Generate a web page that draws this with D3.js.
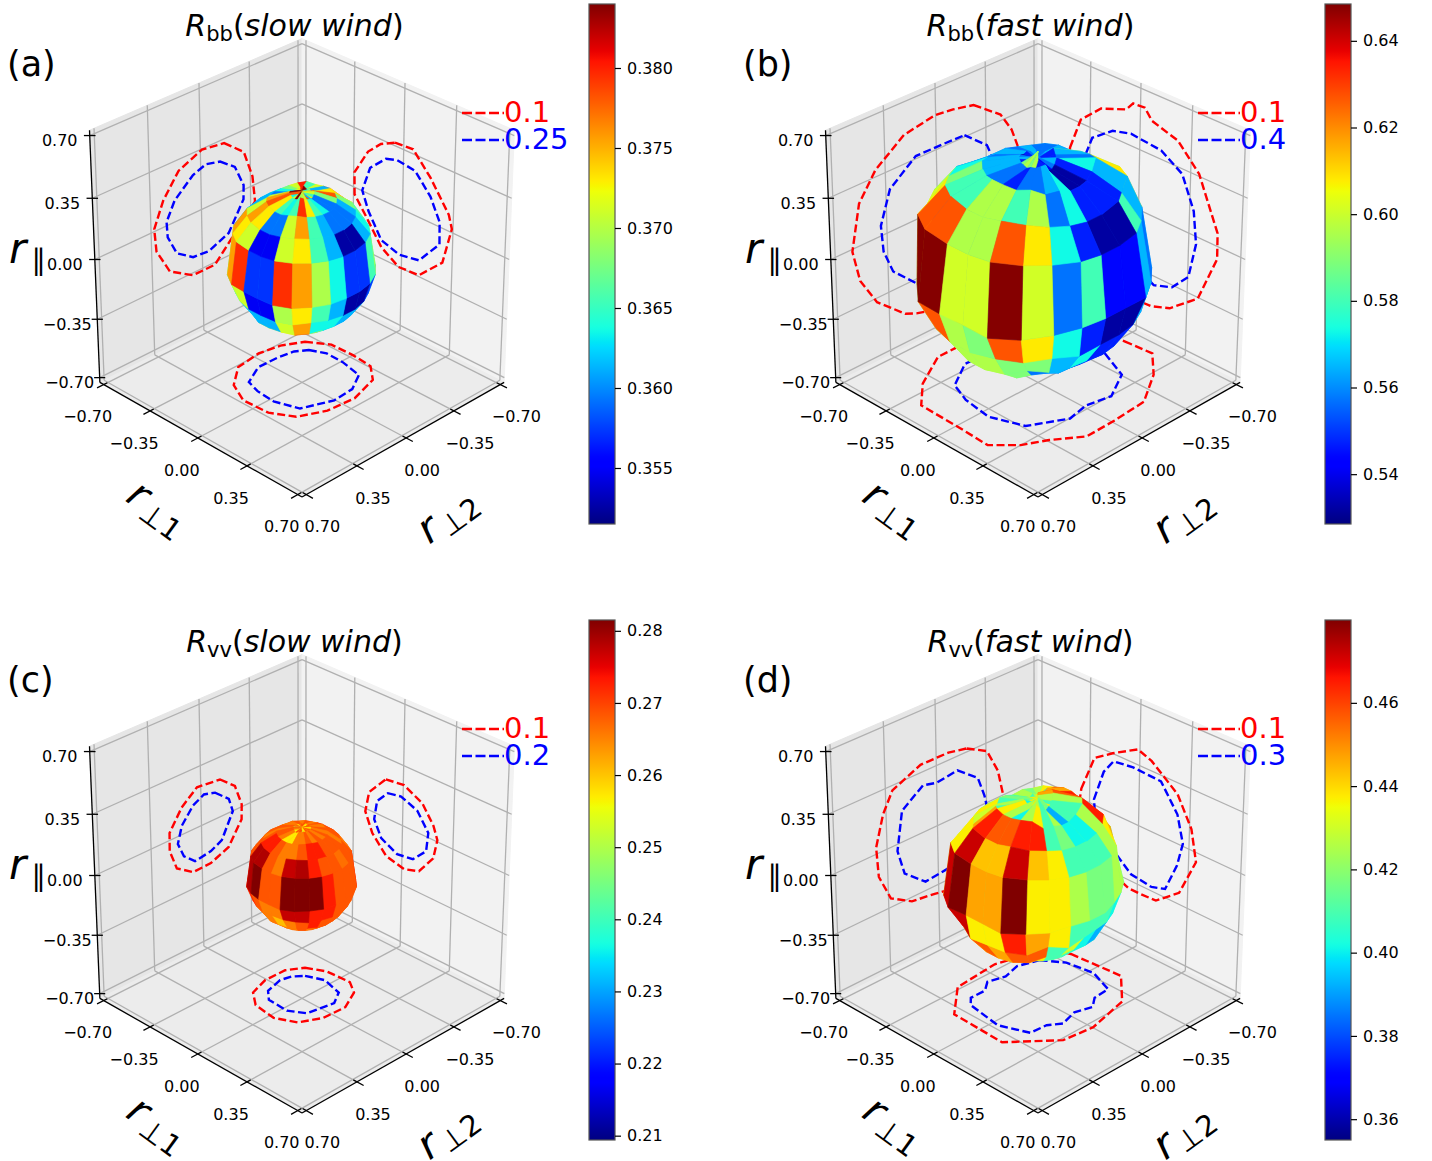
<!DOCTYPE html>
<html>
<head>
<meta charset="utf-8">
<script src="https://cdn.jsdelivr.net/npm/d3@7"></script>
<style>
	html, body { margin: 0; padding: 0; background: #fff; }
	text { font-family: "DejaVu Sans", sans-serif; }
</style>
</head>
<body>
<svg id="chart" width="1432" height="1161"></svg>
<script>
var axisTicks = [-0.7, -0.35, 0, 0.35, 0.7];
var latEdges = [90, 81, 63, 45, 27, -9, -27, -45, -63, -81, -90];
// longitude of the first column edge, measured from the direction of the viewer
var lonEdges = d3.range(-187.5, 172.5, 15);

// R(r), rows north to south, 24 columns each
var bbSlow = [
	[.3801,.373,.371,.3613,.3635,.384,.384,.3782,.3635,.371,.384,.3697,.3697,.371,.3782,.3613,.373,.3655,.371,.3782,.373,.3678,.3635,.384],
	[.3801,.371,.3678,.3635,.3593,.371,.3756,.3782,.373,.3655,.3635,.3655,.3795,.373,.3655,.3635,.3593,.3593,.3678,.3782,.373,.3613,.371,.3655],
	[.3801,.373,.3655,.3613,.3613,.3613,.371,.3756,.373,.3593,.3593,.371,.3756,.3655,.3613,.3593,.3593,.3593,.3613,.3678,.373,.3782,.373,.371],
	[.3613,.3635,.3613,.3635,.3613,.3613,.3756,.373,.371,.3548,.3548,.371,.373,.3655,.3613,.3525,.3525,.3613,.3635,.3655,.3697,.3613,.3635,.3613],
	[.3613,.3635,.3613,.3613,.3635,.3613,.371,.3756,.3795,.3572,.3572,.3795,.3756,.3697,.3635,.3572,.3572,.3655,.3697,.3635,.3613,.3635,.3613,.3635],
	[.3613,.3635,.3613,.3613,.3635,.3613,.3635,.3678,.371,.3548,.3548,.3697,.373,.3655,.3613,.3525,.3525,.3572,.3613,.3635,.3613,.3635,.3613,.3635],
	[.3613,.3635,.3613,.3613,.3635,.3613,.3635,.3635,.3613,.3613,.3613,.371,.3756,.3635,.3635,.3613,.3613,.3613,.3635,.3635,.3613,.3613,.3635,.3613],
	[.3613,.3635,.3613,.3613,.3635,.3613,.3635,.3635,.3635,.371,.371,.373,.3795,.373,.3635,.3613,.3613,.3635,.3635,.3613,.3613,.3613,.3635,.3613],
	[.3635,.3635,.3635,.3635,.3635,.3635,.3635,.3635,.3635,.3635,.3635,.3635,.3635,.3635,.3635,.3635,.3635,.3635,.3635,.3635,.3635,.3635,.3635,.3635],
	[.3635,.3635,.3635,.3635,.3635,.3635,.3635,.3635,.3635,.3635,.3635,.3635,.3635,.3635,.3635,.3635,.3635,.3635,.3635,.3635,.3635,.3635,.3635,.3635]
];
var bbFast = [
	[.557,.565,.557,.547,.532,.557,.565,.547,.589,.596,.589,.596,.547,.547,.547,.541,.557,.565,.557,.547,.547,.557,.565,.557],
	[.557,.565,.557,.565,.557,.565,.565,.565,.557,.557,.547,.557,.557,.565,.573,.532,.532,.547,.573,.557,.565,.589,.565,.557],
	[.565,.557,.557,.565,.557,.573,.589,.58,.58,.596,.596,.58,.596,.557,.573,.547,.547,.547,.565,.608,.589,.573,.557,.565],
	[.557,.565,.557,.565,.573,.601,.608,.627,.627,.596,.596,.627,.608,.573,.547,.532,.532,.58,.565,.608,.601,.573,.557,.565],
	[.557,.557,.565,.557,.557,.608,.601,.648,.648,.601,.601,.648,.601,.557,.58,.544,.544,.565,.557,.565,.557,.557,.565,.557],
	[.557,.565,.557,.557,.565,.589,.596,.596,.627,.596,.589,.627,.608,.573,.547,.532,.532,.565,.557,.565,.557,.557,.565,.557],
	[.565,.557,.565,.557,.565,.557,.589,.589,.596,.596,.596,.589,.589,.565,.573,.547,.547,.557,.565,.557,.565,.557,.565,.557],
	[.565,.557,.565,.557,.565,.557,.565,.565,.58,.596,.596,.589,.557,.565,.557,.547,.557,.565,.557,.565,.557,.565,.557,.565],
	[.565,.557,.565,.557,.565,.557,.565,.557,.565,.565,.58,.589,.565,.557,.565,.557,.565,.557,.565,.557,.565,.557,.565,.557],
	[.58,.58,.58,.58,.58,.58,.58,.58,.58,.58,.58,.58,.58,.58,.58,.58,.58,.58,.58,.58,.58,.58,.58,.58]
];
var vvSlow = [
	[.2685,.2655,.257,.2685,.2655,.2498,.2685,.2655,.257,.2685,.2655,.2685,.2498,.257,.2685,.2655,.2685,.2655,.257,.2655,.2685,.2655,.257,.2685],
	[.2655,.2685,.2655,.2655,.2685,.2655,.2685,.2685,.2655,.257,.257,.2655,.2655,.2685,.2655,.2685,.2655,.2685,.2655,.2685,.2655,.2685,.2655,.2685],
	[.2685,.2655,.2685,.2655,.2685,.2655,.2685,.2729,.2729,.2685,.2655,.2655,.2685,.2729,.2729,.2685,.2685,.2685,.2655,.2685,.2685,.2729,.2685,.2655],
	[.2685,.2655,.2685,.2655,.2685,.2685,.2685,.2785,.2785,.2685,.2655,.2772,.2785,.2729,.2685,.2685,.2665,.2685,.2685,.2655,.2685,.2685,.2655,.2685],
	[.2685,.2655,.2685,.2685,.2655,.2685,.2729,.2785,.2815,.2685,.2685,.2815,.2815,.2815,.2729,.2685,.2685,.2685,.2729,.2685,.2655,.2685,.2655,.2685],
	[.2685,.2655,.2685,.2685,.2655,.2685,.2685,.2729,.2685,.2655,.2655,.2772,.2772,.2729,.2729,.2685,.2685,.2685,.2685,.2655,.2685,.2685,.2655,.2685],
	[.2685,.2655,.2685,.2685,.2655,.2685,.2685,.2685,.2655,.2655,.2605,.2655,.2685,.2729,.2685,.2685,.2685,.2655,.2685,.2685,.2655,.2685,.2685,.2655],
	[.2685,.2685,.2655,.2685,.2685,.2655,.2685,.2685,.2655,.2685,.2655,.2655,.2685,.2655,.2685,.2685,.2655,.2685,.2685,.2655,.2685,.2685,.2655,.2685],
	[.2685,.2685,.2685,.2685,.2685,.2685,.2685,.2685,.2685,.2685,.2685,.2685,.2685,.2685,.2685,.2685,.2685,.2685,.2685,.2685,.2685,.2685,.2685,.2685],
	[.2685,.2685,.2685,.2685,.2685,.2685,.2685,.2685,.2685,.2685,.2685,.2685,.2685,.2685,.2685,.2685,.2685,.2685,.2685,.2685,.2685,.2685,.2685,.2685]
];
var vvFast = [
	[.437,.425,.409,.437,.417,.425,.409,.437,.401,.425,.437,.425,.425,.409,.43,.417,.437,.409,.425,.447,.457,.447,.409,.425],
	[.425,.417,.425,.409,.417,.409,.425,.409,.437,.425,.401,.425,.437,.409,.425,.392,.409,.409,.425,.457,.465,.447,.457,.437],
	[.437,.425,.425,.409,.425,.437,.43,.447,.465,.457,.457,.465,.465,.409,.417,.401,.401,.425,.465,.465,.447,.447,.447,.437],
	[.425,.409,.425,.409,.425,.43,.437,.437,.472,.443,.443,.472,.443,.437,.409,.409,.409,.425,.437,.447,.425,.409,.425,.409],
	[.425,.409,.425,.425,.409,.425,.437,.472,.48,.447,.447,.48,.437,.437,.425,.417,.417,.425,.425,.409,.425,.409,.425,.409],
	[.425,.409,.425,.425,.409,.425,.447,.465,.472,.437,.437,.465,.447,.437,.409,.409,.409,.401,.409,.425,.409,.425,.409,.425],
	[.425,.409,.425,.409,.425,.409,.437,.447,.437,.457,.447,.457,.457,.409,.43,.401,.392,.401,.409,.425,.409,.425,.409,.425],
	[.409,.417,.409,.417,.409,.417,.409,.417,.425,.447,.447,.447,.437,.409,.409,.401,.409,.417,.409,.417,.409,.417,.409,.417],
	[.417,.417,.417,.417,.417,.417,.417,.417,.417,.417,.417,.417,.417,.417,.417,.417,.417,.417,.417,.417,.417,.417,.417,.417],
	[.417,.417,.417,.417,.417,.417,.417,.417,.417,.417,.417,.417,.417,.417,.417,.417,.417,.417,.417,.417,.417,.417,.417,.417]
];

// contours on the walls and on the floor
// left wall is [x, z], right wall is [y, z], floor is [x, y]
var bbSlowLeft01 = [[-.139,.347],[-.277,.244],[-.337,.078],[-.354,-.078],[-.189,-.227],[-.06,-.342],[.095,-.341],[.255,-.253],[.343,-.099],[.354,.036],[.288,.176],[.179,.306],[.016,.367]];
var bbSlowLeft25 = [[-.109,.251],[-.212,.181],[-.273,.05],[-.271,-.033],[-.162,-.192],[-.02,-.243],[.092,-.234],[.204,-.166],[.264,-.047],[.269,.044],[.211,.146],[.082,.244],[-.01,.273]];
var bbSlowRight01 = [[-.034,.388],[.092,.397],[.215,.279],[.345,.116],[.368,.042],[.31,-.178],[.151,-.318],[.007,-.328],[-.118,-.259],[-.234,-.114],[-.314,-.02],[-.316,.11],[-.221,.267],[-.132,.344]];
var bbSlowRight25 = [[-.095,.272],[-.018,.294],[.109,.279],[.217,.172],[.284,.05],[.287,-.08],[.149,-.23],[.009,-.253],[-.119,-.217],[-.213,-.081],[-.259,.025],[-.205,.178]];
var bbSlowFloor01 = [[-.259,-.237],[-.336,-.12],[-.34,.035],[-.327,.17],[-.24,.27],[-.05,.326],[.13,.31],[.28,.24],[.352,.114],[.361,-.057],[.295,-.195],[.159,-.303],[-.008,-.325],[-.142,-.3]];
var bbSlowFloor25 = [[-.215,-.165],[-.257,-.077],[-.254,.042],[-.223,.188],[-.103,.257],[.037,.267],[.213,.199],[.26,.058],[.25,-.068],[.221,-.161],[.087,-.23],[-.053,-.226],[-.151,-.209]];

var bbFastLeft01 = [[-.237,.53],[-.427,.407],[-.506,.291],[-.551,.176],[-.658,-.067],[-.683,-.4],[-.42,-.616],[-.033,-.588],[.189,-.533],[.267,-.502],[.458,-.351],[.566,-.181],[.611,.008],[.556,.263],[.441,.41],[.245,.535],[.035,.569],[-.094,.557]];
var bbFastLeft04 = [[-.17,.381],[-.328,.265],[-.374,.162],[-.496,-.045],[-.46,-.31],[-.232,-.433],[.025,-.438],[.185,-.352],[.342,-.217],[.403,-.075],[.416,.08],[.348,.266],[.168,.387],[-.025,.385]];
var bbFastRight01 = [[-.465,.2],[-.389,.391],[-.246,.507],[-.071,.565],[-.024,.616],[.057,.621],[.106,.565],[.284,.518],[.432,.385],[.567,.097],[.57,-.051],[.449,-.334],[.259,-.472],[.131,-.514],[.067,-.518],[-.241,-.458],[-.406,-.225],[-.476,.005]];
var bbFastRight04 = [[-.352,.203],[-.306,.316],[-.163,.409],[-.035,.439],[.174,.421],[.32,.341],[.404,.16],[.426,-.023],[.381,-.233],[.271,-.341],[.144,-.381],[-.084,-.268],[-.28,-.132]];
var bbFastFloor01 = [[-.57,.067],[-.584,.251],[-.438,.397],[-.215,.538],[.014,.553],[.215,.556],[.37,.448],[.501,.381],[.616,.266],[.606,.058],[.6,-.229],[.454,-.374],[.222,-.507],[.076,-.506],[-.214,-.531],[-.51,-.333]];
var bbFastFloor04 = [[-.411,.078],[-.323,.282],[-.137,.386],[.015,.356],[.158,.384],[.363,.276],[.434,.084],[.406,-.108],[.351,-.247],[.172,-.359],[.095,-.355],[-.174,-.426],[-.405,-.196]];

var vvSlowLeft01 = [[-.108,.24],[-.212,.163],[-.259,.037],[-.257,-.051],[-.162,-.18],[-.034,-.225],[.092,-.228],[.204,-.16],[.25,-.041],[.248,.065],[.161,.18],[.053,.256]];
var vvSlowLeft02 = [[-.072,.177],[-.168,.103],[-.195,.021],[-.114,-.12],[-.036,-.154],[.077,-.169],[.153,-.109],[.193,-.021],[.163,.074],[.083,.161],[.006,.196]];
var vvSlowRight01 = [[-.095,.246],[.032,.26],[.16,.204],[.24,.104],[.269,.032],[.244,-.085],[.148,-.2],[.043,-.23],[-.084,-.203],[-.185,-.106],[-.237,.004],[-.211,.128]];
var vvSlowRight02 = [[-.079,.171],[.013,.187],[.127,.148],[.206,.049],[.194,-.063],[.104,-.146],[-.007,-.161],[-.121,-.111],[-.173,-.018],[-.154,.097]];
var vvSlowFloor01 = [[-.189,-.167],[-.243,-.063],[-.252,.095],[-.195,.18],[-.064,.246],[.087,.238],[.207,.178],[.263,.061],[.243,-.089],[.169,-.184],[.041,-.226],[-.099,-.222]];
var vvSlowFloor02 = [[-.133,-.111],[-.175,-.009],[-.14,.125],[-.052,.179],[.114,.15],[.168,.06],[.16,-.078],[.103,-.142],[-.013,-.172],[-.079,-.155]];

var vvFastLeft01 = [[-.186,.391],[-.329,.323],[-.406,.18],[-.442,.027],[-.494,-.207],[-.361,-.41],[-.04,-.39],[.056,-.373],[.216,-.352],[.36,-.274],[.437,-.116],[.449,.06],[.396,.231],[.329,.343],[.135,.416],[-.058,.414]];
var vvFastLeft03 = [[-.119,.289],[-.262,.191],[-.308,.07],[-.366,-.178],[-.236,-.275],[-.059,-.259],[.118,-.274],[.261,-.168],[.306,-.018],[.268,.202],[.121,.293],[.026,.272]];
var vvFastRight01 = [[-.382,.083],[-.29,.297],[-.162,.372],[.013,.459],[.109,.427],[.289,.306],[.389,.143],[.426,-.034],[.318,-.259],[.159,-.371],[.047,-.377],[-.034,-.377],[-.276,-.291],[-.409,-.088]];
var vvFastRight03 = [[-.29,.055],[-.223,.242],[-.155,.328],[-.018,.344],[.175,.336],[.292,.19],[.334,.036],[.298,-.106],[.221,-.276],[.126,-.303],[-.019,-.286],[-.183,-.169],[-.282,-.037]];
var vvFastFloor01 = [[-.396,-.154],[-.424,.18],[-.249,.355],[.028,.419],[.219,.396],[.447,.195],[.437,-.16],[.246,-.335],[-.044,-.361],[-.146,-.332],[-.342,-.33]];
var vvFastFloor03 = [[-.237,-.225],[-.318,-.11],[-.344,.062],[-.284,.222],[-.175,.232],[-.106,.285],[-.004,.255],[.11,.288],[.18,.241],[.287,.233],[.353,.068],[.318,-.164],[.27,-.213],[.171,-.212],[.103,-.264],[0,-.235],[-.113,-.266]];

var panels = [
	{tag: "(a)", sub: "bb", wind: "slow wind", grid: bbSlow, domain: [.3515, .384], cbTicks: [.355, .36, .365, .37, .375, .38], cbFormat: ".3f", level: "0.25",
		left: [bbSlowLeft01, bbSlowLeft25], right: [bbSlowRight01, bbSlowRight25], floor: [bbSlowFloor01, bbSlowFloor25], dx: 0, dy: 0},
	{tag: "(b)", sub: "bb", wind: "fast wind", grid: bbFast, domain: [.5285, .6485], cbTicks: [.54, .56, .58, .6, .62, .64], cbFormat: ".2f", level: "0.4",
		left: [bbFastLeft01, bbFastLeft04], right: [bbFastRight01, bbFastRight04], floor: [bbFastFloor01, bbFastFloor04], dx: 736, dy: 0},
	{tag: "(c)", sub: "vv", wind: "slow wind", grid: vvSlow, domain: [.2094, .2815], cbTicks: [.21, .22, .23, .24, .25, .26, .27, .28], cbFormat: ".2f", level: "0.2",
		left: [vvSlowLeft01, vvSlowLeft02], right: [vvSlowRight01, vvSlowRight02], floor: [vvSlowFloor01, vvSlowFloor02], dx: 0, dy: 616},
	{tag: "(d)", sub: "vv", wind: "fast wind", grid: vvFast, domain: [.355, .4799], cbTicks: [.36, .38, .4, .42, .44, .46], cbFormat: ".2f", level: "0.3",
		left: [vvFastLeft01, vvFastLeft03], right: [vvFastRight01, vvFastRight03], floor: [vvFastFloor01, vvFastFloor03], dx: 736, dy: 616}
];

// mplot3d camera, elev 30 azim 45 dist 10
var paneMax = 0.7 + 1.4 / 48,
	elev = 30 * Math.PI / 180,
	azim = 45 * Math.PI / 180,
	dist = 10,
	sphereGain = 1.03;
var boxScale = d3.scaleLinear().domain([-paneMax, paneMax]).range([-0.5, 0.5]);
var screenX = d3.scaleLinear().domain([0, 1]).range([302, 302 + 293]);
var screenY = d3.scaleLinear().domain([0, 1]).range([259.5, 259.5 - 291]);

function depthOf(x, y, z) {
	return Math.cos(elev) * (Math.cos(azim) * boxScale(x) + Math.sin(azim) * boxScale(y)) + Math.sin(elev) * boxScale(z);
}

function project(x, y, z) {
	var bx = boxScale(x), by = boxScale(y), bz = boxScale(z);
	var right = -Math.sin(azim) * bx + Math.cos(azim) * by;
	var up = -Math.sin(elev) * (Math.cos(azim) * bx + Math.sin(azim) * by) + Math.cos(elev) * bz;
	var f = dist / (dist - depthOf(x, y, z));
	return [screenX(right * f), screenY(up * f)];
}

// matplotlib jet
var jetR = d3.scaleLinear().domain([0, .35, .66, .89, 1]).range([0, 0, 255, 255, 128]);
var jetG = d3.scaleLinear().domain([0, .125, .375, .64, .91, 1]).range([0, 0, 255, 255, 0, 0]);
var jetB = d3.scaleLinear().domain([0, .11, .34, .65, 1]).range([128, 255, 255, 0, 0]);
function jet(t) {
	t = Math.max(0, Math.min(1, t));
	return d3.rgb(jetR(t), jetG(t), jetB(t)).formatHex();
}

var svg = d3.select("#chart");
var closedLine = d3.line().curve(d3.curveLinearClosed);

function segment(g, a, b, color, width) {
	var p = project(a[0], a[1], a[2]), q = project(b[0], b[1], b[2]);
	g.append("line")
		.attr("x1", p[0]).attr("y1", p[1])
		.attr("x2", q[0]).attr("y2", q[1])
		.attr("stroke", color)
		.attr("stroke-width", width);
}

function drawBox(g) {
	var m = paneMax;
	var panes = [
		{fill: "#e6e6e6", pts: [[m, -m, -m], [-m, -m, -m], [-m, -m, m], [m, -m, m]]},
		{fill: "#f2f2f2", pts: [[-m, m, -m], [-m, -m, -m], [-m, -m, m], [-m, m, m]]},
		{fill: "#ececec", pts: [[m, m, -m], [m, -m, -m], [-m, -m, -m], [-m, m, -m]]}
	];
	g.selectAll("path.pane").data(panes).enter().append("path")
		.attr("class", "pane")
		.attr("d", function(d) { return closedLine(d.pts.map(function(p) { return project(p[0], p[1], p[2]); })); })
		.attr("fill", function(d) { return d.fill; })
		.attr("stroke", function(d) { return d.fill; })
		.attr("stroke-width", 1);

	axisTicks.forEach(function(v) {
		segment(g, [v, -m, -m], [v, m, -m], "#b0b0b0", 1.3);
		segment(g, [v, -m, -m], [v, -m, m], "#b0b0b0", 1.3);
		segment(g, [-m, v, -m], [m, v, -m], "#b0b0b0", 1.3);
		segment(g, [-m, v, -m], [-m, v, m], "#b0b0b0", 1.3);
		segment(g, [-m, -m, v], [m, -m, v], "#b0b0b0", 1.3);
		segment(g, [-m, -m, v], [-m, m, v], "#b0b0b0", 1.3);
	});

	segment(g, [-m, m, -m], [m, m, -m], "#000", 1.3);
	segment(g, [m, -m, -m], [m, m, -m], "#000", 1.3);
	segment(g, [m, -m, -m], [m, -m, m], "#000", 1.3);

	var fmt = d3.format(".2f");
	axisTicks.forEach(function(v) {
		segment(g, [v, m - 0.025, -m], [v, m + 0.045, -m], "#000", 1.3);
		segment(g, [m - 0.025, v, -m], [m + 0.045, v, -m], "#000", 1.3);
		segment(g, [m + 0.02, -m - 0.02, v], [m - 0.02, -m + 0.02, v], "#000", 1.3);

		var px = project(v, m, -m), py = project(m, v, -m), pz = project(m, -m, v);
		tickLabel(g, px[0] + 16, px[1] + 32, fmt(v));
		tickLabel(g, py[0] - 16, py[1] + 32, fmt(v));
		tickLabel(g, pz[0] - 30, pz[1] + 5, fmt(v));
	});
}

function tickLabel(g, x, y, s) {
	g.append("text")
		.attr("x", x).attr("y", y).attr("dy", "0.36em")
		.attr("text-anchor", "middle")
		.attr("font-size", 16)
		.attr("fill", "#000")
		.text(s);
}

function drawContours(g, curves, toPoint) {
	var colors = ["#ff0000", "#0000ff"];
	curves.forEach(function(curve, i) {
		g.append("path")
			.attr("d", closedLine(curve.map(function(c) {
				var p = toPoint(c);
				return project(p[0], p[1], p[2]);
			})))
			.attr("fill", "none")
			.attr("stroke", colors[i])
			.attr("stroke-width", 2.4)
			.attr("stroke-dasharray", "8,3.5");
	});
}

function drawSphere(g, grid, color) {
	var rows = grid.length, cols = grid[0].length;
	function vertex(i, j) {
		var r = grid[Math.min(i, rows - 1)][j % cols] * sphereGain;
		var lat = latEdges[i] * Math.PI / 180;
		var lon = (45 + lonEdges[j % cols]) * Math.PI / 180;
		return [r * Math.cos(lat) * Math.cos(lon), r * Math.cos(lat) * Math.sin(lon), r * Math.sin(lat)];
	}
	var faces = [];
	grid.forEach(function(row, i) {
		row.forEach(function(v, j) {
			var corners = [vertex(i, j), vertex(i, j + 1), vertex(i + 1, j + 1), vertex(i + 1, j)];
			faces.push({
				value: v,
				corners: corners,
				depth: d3.mean(corners, function(c) { return depthOf(c[0], c[1], c[2]); })
			});
		});
	});
	faces.sort(function(a, b) { return d3.ascending(a.depth, b.depth); });
	g.selectAll("path.face").data(faces).enter().append("path")
		.attr("class", "face")
		.attr("d", function(d) { return closedLine(d.corners.map(function(c) { return project(c[0], c[1], c[2]); })); })
		.attr("fill", function(d) { return color(d.value); })
		.attr("stroke", function(d) { return color(d.value); })
		.attr("stroke-width", 0.6);
}

function drawColorbar(g, p, idx) {
	var barX = 589, barTop = 4, barBottom = 524, barW = 26;
	var yScale = d3.scaleLinear().domain(p.domain).range([barBottom, barTop]);
	var gradId = "jet" + idx;
	var grad = g.append("defs").append("linearGradient")
		.attr("id", gradId)
		.attr("x1", 0).attr("y1", 1).attr("x2", 0).attr("y2", 0);
	grad.selectAll("stop").data(d3.range(0, 1.001, 0.01)).enter().append("stop")
		.attr("offset", function(d) { return d; })
		.attr("stop-color", function(d) { return jet(d); });
	g.append("rect")
		.attr("x", barX).attr("y", barTop)
		.attr("width", barW).attr("height", barBottom - barTop)
		.attr("fill", "url(#" + gradId + ")")
		.attr("stroke", "#555")
		.attr("stroke-width", 1.2);
	var axis = d3.axisRight(yScale)
		.tickValues(p.cbTicks)
		.tickFormat(d3.format(p.cbFormat))
		.tickSize(6)
		.tickSizeOuter(0)
		.tickPadding(6);
	var ag = g.append("g").attr("transform", "translate(" + (barX + barW) + ",0)").call(axis);
	ag.select(".domain").remove();
	ag.selectAll("text").attr("font-size", 16).attr("font-family", "DejaVu Sans");
	ag.selectAll("line").attr("stroke", "#000").attr("stroke-width", 1.2);
}

function drawText(g, p) {
	var title = g.append("text")
		.attr("x", 294.5).attr("y", 36)
		.attr("text-anchor", "middle")
		.attr("font-size", 30);
	title.append("tspan").attr("font-style", "italic").text("R");
	title.append("tspan").attr("font-size", 21).attr("dy", 5).text(p.sub);
	title.append("tspan").attr("dy", -5).text("(");
	title.append("tspan").attr("font-style", "italic").text(p.wind);
	title.append("tspan").text(")");

	g.append("text").attr("x", 7).attr("y", 76).attr("font-size", 35).text(p.tag);

	var rPar = g.append("text").attr("x", 9).attr("y", 263).attr("font-size", 42);
	rPar.append("tspan").attr("font-style", "italic").text("r");
	rPar.append("tspan").attr("font-size", 29).attr("dy", 7).attr("dx", 5).text("\u2225");

	var rOne = g.append("text")
		.attr("transform", "translate(150,519) rotate(36)")
		.attr("text-anchor", "middle")
		.attr("font-size", 41);
	rOne.append("tspan").attr("font-style", "italic").text("r");
	rOne.append("tspan").attr("font-size", 29).attr("dy", 6).attr("dx", 3).text("\u22a51");

	var rTwo = g.append("text")
		.attr("transform", "translate(455,526) rotate(-36)")
		.attr("text-anchor", "middle")
		.attr("font-size", 41);
	rTwo.append("tspan").attr("font-style", "italic").text("r");
	rTwo.append("tspan").attr("font-size", 29).attr("dy", 6).attr("dx", 3).text("\u22a52");

	var legend = [
		{label: "0.1", color: "#ff0000", y: 113},
		{label: p.level, color: "#0000ff", y: 140}
	];
	legend.forEach(function(d) {
		g.append("line")
			.attr("x1", 462).attr("y1", d.y).attr("x2", 504).attr("y2", d.y)
			.attr("stroke", d.color).attr("stroke-width", 2.4)
			.attr("stroke-dasharray", "10,3.5");
		g.append("text")
			.attr("x", 504).attr("y", d.y + 8.5)
			.attr("font-size", 29)
			.attr("fill", d.color)
			.text(d.label);
	});
}

panels.forEach(function(p, idx) {
	var g = svg.append("g").attr("transform", "translate(" + p.dx + "," + p.dy + ")");
	var norm = d3.scaleLinear().domain(p.domain).range([0, 1]);
	var color = function(v) { return jet(norm(v)); };
	drawBox(g);
	drawContours(g, p.left, function(c) { return [c[0], -0.7, c[1]]; });
	drawContours(g, p.right, function(c) { return [-0.7, c[0], c[1]]; });
	drawContours(g, p.floor, function(c) { return [c[0], c[1], -0.7]; });
	drawSphere(g, p.grid, color);
	drawColorbar(g, p, idx);
	drawText(g, p);
});
</script>
</body>
</html>
